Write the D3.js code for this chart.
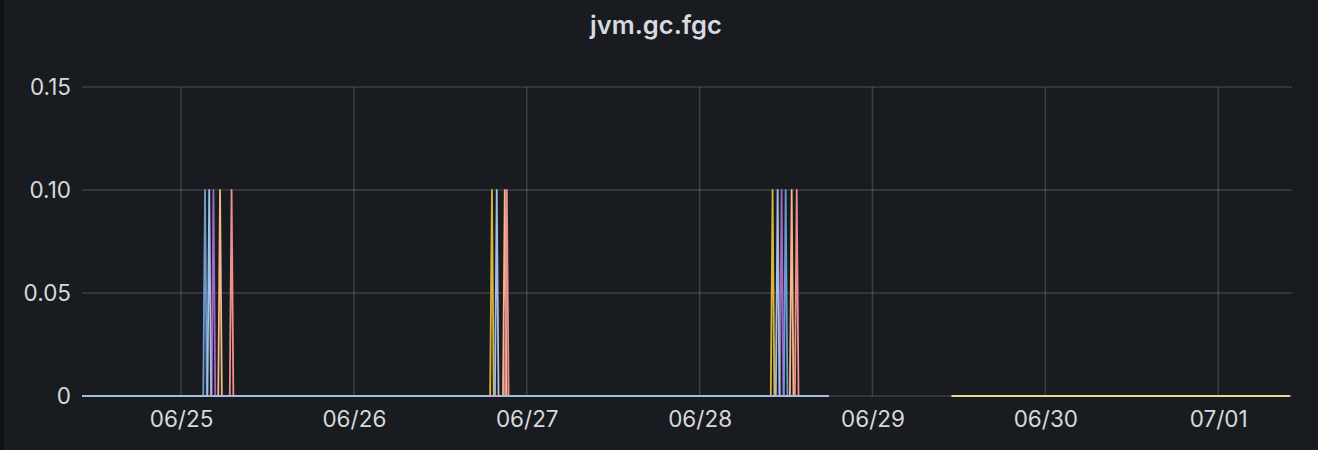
<!DOCTYPE html>
<html>
<head>
<meta charset="utf-8">
<script src="https://cdn.jsdelivr.net/npm/d3@7"></script>
<style>
  html, body { margin: 0; padding: 0; background: #111217; }
  svg { display: block; }
</style>
</head>
<body>
<svg id="chart" width="1318" height="450"></svg>
<script>
// ---- data ----
const title = "jvm.gc.fgc";
const timeDomain = ["2024-06-24T10:15Z", "2024-07-01T10:15Z"];
const yTicks = [0, 0.05, 0.10, 0.15];
const spikeValue = 0.1;
const baseValue = 0;
const spikeHalfWidthMin = 15;

const seriesNames  = ["yellow", "purple", "steel", "tan", "salmon", "lightblue"];
const seriesColors = ["#d8b43c", "#a066c4", "#6c9bd2", "#f2b887", "#f08e8e", "#a4bde4"];
const seriesStart  = "2024-06-24T10:15Z";
const seriesEnd    = "2024-06-28T17:54Z";
const seriesSpikes = [
  ["2024-06-26T19:10Z", "2024-06-28T10:08Z"],
  ["2024-06-25T04:30Z", "2024-06-28T11:23Z"],
  ["2024-06-25T03:20Z", "2024-06-28T11:57Z"],
  ["2024-06-25T05:25Z", "2024-06-26T20:57Z", "2024-06-28T12:47Z"],
  ["2024-06-25T07:01Z", "2024-06-26T21:14Z", "2024-06-28T13:29Z"],
  ["2024-06-25T03:55Z", "2024-06-26T19:50Z", "2024-06-28T10:50Z"]
];
const lateSeriesColor = "#e8d49c";
const lateSeriesTimes  = ["2024-06-29T10:58Z", "2024-07-01T10:00Z"];
const lateSeriesValues = [0, 0];

// ---- layout ----
const W = 1318, H = 450;
const m = { left: 82, right: 26, top: 87, bottom: 54 };
const svg = d3.select("#chart");

svg.append("rect").attr("x", 4).attr("y", 0).attr("width", W - 4).attr("height", H)
   .attr("fill", "#181b1f");

const x = d3.scaleUtc()
  .domain(timeDomain.map(d => new Date(d)))
  .range([m.left, W - m.right]);
const y = d3.scaleLinear().domain([0, 0.15]).range([H - m.bottom, m.top]);

const gridColor = "rgba(240,250,255,0.16)";
const textColor = "#d8d9da";
const fontFam = "Inter, 'Noto Sans', sans-serif";

// title
svg.append("text").attr("x", 656).attr("y", 34).attr("text-anchor", "middle")
  .attr("font-family", fontFam).attr("font-size", 25.5)
  .attr("font-weight", 600).attr("fill", "#d8d9de").text(title);

// grid
const xTicks = x.ticks(d3.utcDay.every(1));
svg.append("g").selectAll("line").data(xTicks).join("line")
  .attr("x1", d => x(d)).attr("x2", d => x(d))
  .attr("y1", y(0.15)).attr("y2", y(0))
  .attr("stroke", gridColor).attr("stroke-width", 1.5);
svg.append("g").selectAll("line").data(yTicks).join("line")
  .attr("x1", m.left).attr("x2", W - m.right)
  .attr("y1", d => y(d)).attr("y2", d => y(d))
  .attr("stroke", gridColor).attr("stroke-width", 1.5);

// axes labels
const xAxis = d3.axisBottom(x).tickValues(xTicks).tickFormat(d3.utcFormat("%m/%d")).tickSize(0).tickPadding(15);
const gx = svg.append("g").attr("transform", `translate(0,${y(0)})`).call(xAxis);
gx.select(".domain").remove();
gx.selectAll("text").attr("fill", textColor).attr("font-size", 22.5)
  .attr("font-family", fontFam);

const yAxis = d3.axisLeft(y).tickValues(yTicks)
  .tickFormat(d => d === 0 ? "0" : d3.format(".2f")(d)).tickSize(0).tickPadding(11);
const gy = svg.append("g").attr("transform", `translate(${m.left},0)`).call(yAxis);
gy.select(".domain").remove();
gy.selectAll("text").attr("fill", textColor).attr("font-size", 22.5)
  .attr("font-family", fontFam);

// series
const line = d3.line().x(d => x(d.t)).y(d => y(d.v));
const plot = svg.append("g");

function buildSeries(spikes) {
  const pts = [{ t: new Date(seriesStart), v: baseValue }];
  spikes.map(s => new Date(s)).sort((a, b) => a - b).forEach(s => {
    pts.push({ t: d3.utcMinute.offset(s, -spikeHalfWidthMin), v: baseValue });
    pts.push({ t: s, v: spikeValue });
    pts.push({ t: d3.utcMinute.offset(s, spikeHalfWidthMin), v: baseValue });
  });
  pts.push({ t: new Date(seriesEnd), v: baseValue });
  return pts;
}

seriesNames.forEach((name, i) => {
  plot.append("path").datum(buildSeries(seriesSpikes[i]))
    .attr("d", line).attr("fill", "none")
    .attr("stroke", seriesColors[i]).attr("stroke-width", 1.8)
    .attr("stroke-linejoin", "round");
});

plot.append("path")
  .datum(lateSeriesTimes.map((t, i) => ({ t: new Date(t), v: lateSeriesValues[i] })))
  .attr("d", line).attr("fill", "none")
  .attr("stroke", lateSeriesColor).attr("stroke-width", 2);
</script>
</body>
</html>
